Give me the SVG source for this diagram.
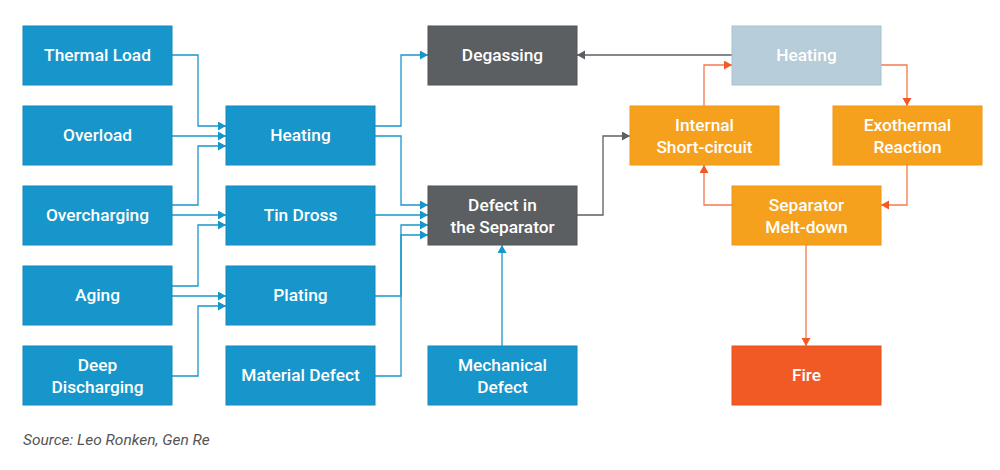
<svg xmlns="http://www.w3.org/2000/svg" width="1000" height="470" viewBox="0 0 1000 470">
<defs>
<marker id="ab" markerUnits="userSpaceOnUse" markerWidth="9" markerHeight="10" refX="8" refY="4.5" orient="auto"><path d="M0,0 L8,4.5 L0,9 z" fill="#1796cb"/></marker>
<marker id="ag" markerUnits="userSpaceOnUse" markerWidth="9" markerHeight="10" refX="8" refY="4.5" orient="auto"><path d="M0,0 L8,4.5 L0,9 z" fill="#5c5f62"/></marker>
<marker id="ao" markerUnits="userSpaceOnUse" markerWidth="9" markerHeight="10" refX="8" refY="4.5" orient="auto"><path d="M0,0 L8,4.5 L0,9 z" fill="#f15a24"/></marker>
<style>
.b{fill:#1796cb;stroke:#1489bd;stroke-width:1}
.g{fill:#5c5f62;stroke:#505356;stroke-width:1}
.l{fill:#b7cdd9;stroke:#a9c1cf;stroke-width:1}
.o{fill:#f6a11d;stroke:#f0951a;stroke-width:1}
.f{fill:#f15a24;stroke:#e9501c;stroke-width:1}
text{font-family:Roboto,"Liberation Sans",sans-serif;font-weight:500;font-size:17.3px;fill:#fff;text-anchor:middle}
.cb{fill:none;stroke:#1796cb;stroke-width:1.3;marker-end:url(#ab)}
.cg{fill:none;stroke:#5c5f62;stroke-width:1.3;marker-end:url(#ag)}
.co{fill:none;stroke:#f47a4c;stroke-width:1.3;marker-end:url(#ao)}
.src{font-family:Roboto,"Liberation Sans",sans-serif;font-style:italic;font-weight:400;font-size:15.5px;fill:#555;text-anchor:start}
</style>
</defs>
<g id="connectors">
<path class="cb" d="M172,55 H198 V126 H226"/>
<path class="cb" d="M172,136 H226"/>
<path class="cb" d="M172,205 H198 V146 H226"/>
<path class="cb" d="M172,215 H226"/>
<path class="cb" d="M172,286 H198 V225 H226"/>
<path class="cb" d="M172,296 H226"/>
<path class="cb" d="M172,376 H198 V306 H226"/>
<path class="cb" d="M375,126 H401 V55 H428"/>
<path class="cb" d="M375,136 H401 V205 H428"/>
<path class="cb" d="M375,215 H428"/>
<path class="cb" d="M375,296 H401 V225 H428"/>
<path class="cb" d="M375,376 H401 V235 H428"/>
<path class="cb" d="M502,346 V245"/>
<path class="cg" d="M577,215 H603 V136 H630"/>
<path class="cg" d="M732,55 H577"/>
<path class="co" d="M704,106 V65 H732"/>
<path class="co" d="M881,65 H907 V106"/>
<path class="co" d="M907,165 V205 H881"/>
<path class="co" d="M732,205 H704 V165"/>
<path class="co" d="M806,245 V346"/>
</g>
<g id="thermal-load"><rect class="b" x="23" y="26" width="149" height="59"/><text x="97.5" y="61">Thermal Load</text></g>
<g id="overload"><rect class="b" x="23" y="106" width="149" height="59"/><text x="97.5" y="141">Overload</text></g>
<g id="overcharging"><rect class="b" x="23" y="186" width="149" height="59"/><text x="97.5" y="221">Overcharging</text></g>
<g id="aging"><rect class="b" x="23" y="266" width="149" height="59"/><text x="97.5" y="301">Aging</text></g>
<g id="deep-discharging"><rect class="b" x="23" y="346" width="149" height="59"/><text x="97.5" y="371">Deep</text><text x="97.5" y="393">Discharging</text></g>
<g id="heating"><rect class="b" x="226" y="106" width="149" height="59"/><text x="300.5" y="141">Heating</text></g>
<g id="tin-dross"><rect class="b" x="226" y="186" width="149" height="59"/><text x="300.5" y="221">Tin Dross</text></g>
<g id="plating"><rect class="b" x="226" y="266" width="149" height="59"/><text x="300.5" y="301">Plating</text></g>
<g id="material-defect"><rect class="b" x="226" y="346" width="149" height="59"/><text x="300.5" y="381">Material Defect</text></g>
<g id="degassing"><rect class="g" x="428" y="26" width="149" height="59"/><text x="502.5" y="61">Degassing</text></g>
<g id="defect-separator"><rect class="g" x="428" y="186" width="149" height="59"/><text x="502.5" y="211">Defect in</text><text x="502.5" y="233">the Separator</text></g>
<g id="mechanical-defect"><rect class="b" x="428" y="346" width="149" height="59"/><text x="502.5" y="371">Mechanical</text><text x="502.5" y="393">Defect</text></g>
<g id="internal-short"><rect class="o" x="630" y="106" width="149" height="59"/><text x="704.5" y="131">Internal</text><text x="704.5" y="153">Short-circuit</text></g>
<g id="heating-2"><rect class="l" x="732" y="26" width="149" height="59"/><text x="806.5" y="61">Heating</text></g>
<g id="exothermal"><rect class="o" x="833" y="106" width="149" height="59"/><text x="907.5" y="131">Exothermal</text><text x="907.5" y="153">Reaction</text></g>
<g id="separator-meltdown"><rect class="o" x="732" y="186" width="149" height="59"/><text x="806.5" y="211">Separator</text><text x="806.5" y="233">Melt-down</text></g>
<g id="fire"><rect class="f" x="732" y="346" width="149" height="59"/><text x="806.5" y="381">Fire</text></g>
<text class="src" x="23" y="445">Source: Leo Ronken, Gen Re</text>
</svg>
